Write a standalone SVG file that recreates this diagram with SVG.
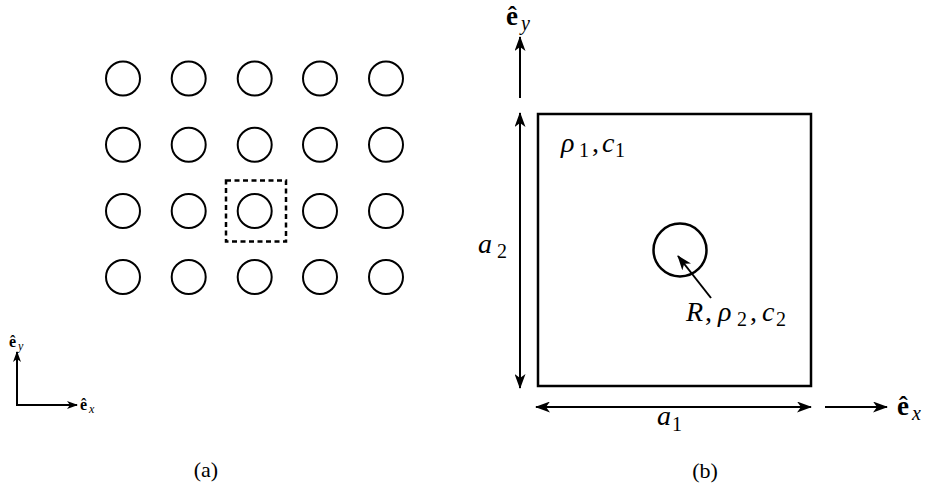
<svg xmlns="http://www.w3.org/2000/svg" width="933" height="493" viewBox="0 0 933 493">
<defs>
<marker id="ah" markerUnits="userSpaceOnUse" markerWidth="15" markerHeight="11" viewBox="0 0 15 11" refX="14" refY="5.5" orient="auto-start-reverse">
<path d="M0,0 L15,5.5 L0,11 L4,5.5 z" fill="#000"/>
</marker>
<marker id="ahs" markerUnits="userSpaceOnUse" markerWidth="11" markerHeight="8" viewBox="0 0 11 8" refX="10" refY="4" orient="auto">
<path d="M0,0 L11,4 L0,8 L3,4 z" fill="#000"/>
</marker>
</defs>
<style>
.c{fill:none;stroke:#000;stroke-width:2}
.ln{fill:none;stroke:#000;stroke-width:2}
.th{fill:none;stroke:#000;stroke-width:2.5}
</style>
<rect width="933" height="493" fill="#fff"/>
<g id="lattice">
<g id="c11"><circle class="c" cx="123" cy="78.5" r="17"/></g>
<g id="c12"><circle class="c" cx="188.7" cy="78.5" r="17"/></g>
<g id="c13"><circle class="c" cx="254.7" cy="78.5" r="17"/></g>
<g id="c14"><circle class="c" cx="320" cy="78.5" r="17"/></g>
<g id="c15"><circle class="c" cx="386" cy="78.5" r="17"/></g>
<g id="c21"><circle class="c" cx="123" cy="144.7" r="17"/></g>
<g id="c22"><circle class="c" cx="188.7" cy="144.7" r="17"/></g>
<g id="c23"><circle class="c" cx="254.7" cy="144.7" r="17"/></g>
<g id="c24"><circle class="c" cx="320" cy="144.7" r="17"/></g>
<g id="c25"><circle class="c" cx="386" cy="144.7" r="17"/></g>
<g id="c31"><circle class="c" cx="123" cy="211" r="17"/></g>
<g id="c32"><circle class="c" cx="188.7" cy="211" r="17"/></g>
<g id="c33"><circle class="c" cx="254.7" cy="211" r="17"/></g>
<g id="c34"><circle class="c" cx="320" cy="211" r="17"/></g>
<g id="c35"><circle class="c" cx="386" cy="211" r="17"/></g>
<g id="c41"><circle class="c" cx="123" cy="277" r="17"/></g>
<g id="c42"><circle class="c" cx="188.7" cy="277" r="17"/></g>
<g id="c43"><circle class="c" cx="254.7" cy="277" r="17"/></g>
<g id="c44"><circle class="c" cx="320" cy="277" r="17"/></g>
<g id="c45"><circle class="c" cx="386" cy="277" r="17"/></g>
<g id="cell-box"><rect class="th" x="226" y="180.5" width="60" height="61" stroke-dasharray="5,3.5"/></g>
</g>
<g id="unit-cell">
<rect class="th" x="538" y="114" width="273" height="272"/>
<circle class="th" cx="680" cy="250" r="26.5"/>
</g>
<g id="connectors">
<path class="ln" d="M17,405 L17,352" marker-end="url(#ahs)"/>
<path class="ln" d="M16,405 L77,405" marker-end="url(#ahs)"/>
<path class="ln" d="M520,113 L520,388" marker-start="url(#ah)" marker-end="url(#ah)"/>
<path class="ln" d="M536,407 L811,407" marker-start="url(#ah)" marker-end="url(#ah)"/>
<path class="ln" d="M825,407 L887,407" marker-end="url(#ah)"/>
<path class="ln" d="M520,98 L520,37" marker-end="url(#ah)"/>
<path class="ln" d="M711,298 L678,256" marker-end="url(#ah)"/>
</g>
<text font-weight="bold" font-family="Times New Roman, Liberation Serif, serif" x="9" y="347" font-size="16">ê</text>
<text font-style="italic" font-family="Times New Roman, Liberation Serif, serif" x="18" y="350" font-size="12">y</text>
<text font-weight="bold" font-family="Times New Roman, Liberation Serif, serif" x="80" y="410" font-size="16">ê</text>
<text font-style="italic" font-family="Times New Roman, Liberation Serif, serif" x="89" y="413" font-size="12">x</text>
<text font-weight="bold" font-family="Times New Roman, Liberation Serif, serif" x="506" y="25" font-size="27">ê</text>
<text font-style="italic" font-family="Times New Roman, Liberation Serif, serif" x="521" y="30" font-size="20">y</text>
<text font-weight="bold" font-family="Times New Roman, Liberation Serif, serif" x="897" y="415" font-size="27">ê</text>
<text font-style="italic" font-family="Times New Roman, Liberation Serif, serif" x="912" y="420" font-size="20">x</text>
<text font-style="italic" font-family="Times New Roman, Liberation Serif, serif" x="478" y="253" font-size="28">a</text>
<text font-family="Times New Roman, Liberation Serif, serif" x="497" y="258" font-size="20">2</text>
<text font-family="Times New Roman, Liberation Serif, serif" font-size="28"><tspan font-style="italic" x="561" y="152">ρ</tspan><tspan x="579" y="157" font-size="20">1</tspan><tspan x="592" y="152">,</tspan><tspan font-style="italic" x="602" y="152">c</tspan><tspan x="615" y="157" font-size="20">1</tspan></text>
<text font-family="Times New Roman, Liberation Serif, serif" font-size="28"><tspan font-style="italic" x="686" y="321">R</tspan><tspan x="705" y="321">,</tspan><tspan font-style="italic" x="718" y="321">ρ</tspan><tspan x="737" y="326" font-size="20">2</tspan><tspan x="750" y="321">,</tspan><tspan font-style="italic" x="762" y="321">c</tspan><tspan x="776" y="326" font-size="20">2</tspan></text>
<text font-style="italic" font-family="Times New Roman, Liberation Serif, serif" x="657" y="425" font-size="28">a</text>
<text font-family="Times New Roman, Liberation Serif, serif" x="672" y="431" font-size="20">1</text>
<text font-family="Times New Roman, Liberation Serif, serif" x="206" y="477" font-size="22" text-anchor="middle">(a)</text>
<text font-family="Times New Roman, Liberation Serif, serif" x="705" y="478" font-size="22" text-anchor="middle">(b)</text>
</svg>
